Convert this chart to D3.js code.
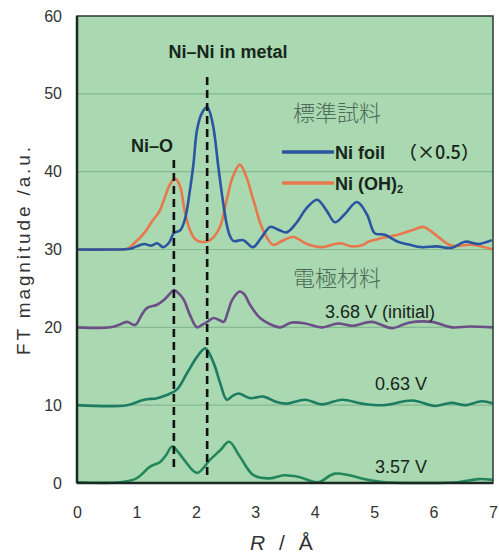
<!DOCTYPE html>
<html><head><meta charset="utf-8">
<script src="https://cdn.jsdelivr.net/npm/d3@7/dist/d3.min.js"></script>
<style>body{margin:0;background:#fff}svg{display:block}</style>
</head><body>
<svg id="c" width="499" height="560"></svg>
<script>
// ---- data (displayed values, offsets included) ----
const xTicks = [0,1,2,3,4,5,6,7];
const yTicks = [0,10,20,30,40,50,60];
const niFoilR = [0,0.5,0.9,1.0,1.13,1.25,1.35,1.45,1.55,1.63,1.74,1.82,1.9,1.96,2.02,2.1,2.19,2.28,2.38,2.45,2.52,2.57,2.63,2.8,2.96,3.1,3.25,3.4,3.53,3.7,3.85,4.04,4.2,4.34,4.5,4.71,4.88,5.01,5.18,5.4,5.6,5.8,6.05,6.3,6.53,6.75,6.98];
const niFoilV = [30,30,30.1,30.4,30.7,30.5,30.8,30.3,30.9,32.1,32.5,34,37.6,41,45.4,47.5,48.3,46.3,40.5,36.5,33.2,31.8,31.1,31.2,30.3,31.5,32.9,32.5,32.2,33.5,35.2,36.4,35,33.5,34.5,36.1,34.5,32.1,31.9,31,30.6,30.3,30.4,30.2,31,30.7,31.2];
const niOHR = [0,0.5,0.85,0.95,1.13,1.28,1.38,1.46,1.56,1.65,1.73,1.82,1.9,1.98,2.07,2.24,2.4,2.52,2.62,2.74,2.85,2.97,3.13,3.3,3.45,3.64,3.87,4.1,4.43,4.62,4.82,4.9,5.15,5.4,5.65,5.83,6.08,6.3,6.64,7.0];
const niOHV = [30,30,30.1,30.7,32.1,33.8,34.8,36.3,38.3,39.1,38.2,34.7,32.5,31.4,31.0,31.2,32.8,36.4,39.3,40.9,39.3,36.3,32.5,30.6,31.1,31.6,30.7,30.3,30.8,30.4,30.6,31,31.5,31.9,32.5,32.9,31.6,30.5,30.6,30];
const v368R = [0,0.56,0.7,0.84,0.98,1.08,1.18,1.35,1.46,1.55,1.63,1.72,1.8,1.9,2.02,2.1,2.19,2.3,2.4,2.47,2.54,2.61,2.74,2.82,2.91,3.08,3.25,3.42,3.6,3.84,4.12,4.39,4.63,4.96,5.3,5.58,5.97,6.31,6.6,7.0];
const v368V = [20,20,20.3,20.7,20.3,21.5,22.5,22.9,23.5,24.2,24.8,24.3,23.5,21.6,20.0,20.3,20.7,21.2,20.9,20.7,22,23.5,24.6,24.2,22.9,21.2,20.4,20.0,20.6,20.5,20.0,20.5,20.2,20.7,19.9,20.6,20.7,20.0,20.1,20.0];
const v063R = [0,0.84,1.13,1.35,1.51,1.68,1.85,2.02,2.16,2.3,2.41,2.52,2.62,2.72,2.91,3.14,3.36,3.53,3.84,4.12,4.46,4.8,5.18,5.64,6.02,6.3,6.53,6.81,7.0];
const v063V = [10,10,10.7,10.9,11.3,12,14.1,16.2,17.3,15.4,12.8,10.7,11.2,11.5,10.9,11.1,10.4,10.2,10.7,10.1,10.7,10.2,10.0,10.6,9.9,10.3,10,10.5,10.2];
const v357R = [0,0.73,1.0,1.23,1.4,1.5,1.6,1.7,1.8,2.02,2.24,2.41,2.56,2.74,2.97,3.25,3.48,3.72,4.06,4.34,4.9,5.18,5.86,6.41,6.75,7.0];
const v357V = [0.1,0.1,0.6,2.1,2.7,3.6,4.7,4.0,3.0,1.3,3.0,4.2,5.3,3.4,1.0,0.6,1.0,0.8,0.1,1.2,0.4,0.1,0,0.1,0.5,0.4];
const refLines = [1.63, 2.19];

const svg = d3.select('#c');
const x = d3.scaleLinear().domain([0,7]).range([77,493]);
const y = d3.scaleLinear().domain([0,60]).range([483,16]);
const SANS = '"Liberation Sans", Arial, sans-serif';
const CJK = '"Noto Sans CJK JP", sans-serif';

// plot background
svg.append('rect').attr('x',x(0)).attr('y',y(60)).attr('width',x(7)-x(0)).attr('height',y(0)-y(60))
  .attr('fill','#a9d8b1');
// grid
svg.append('g').selectAll('line').data(yTicks.filter(d=>d>0&&d<60)).join('line')
  .attr('x1',x(0)).attr('x2',x(7)).attr('y1',d=>y(d)).attr('y2',d=>y(d))
  .attr('stroke','#86b891').attr('stroke-width',1.2);

// axes
const gx = svg.append('g').attr('transform',`translate(0,${y(0)})`)
  .call(d3.axisBottom(x).tickValues(xTicks).tickSize(0).tickPadding(24).tickFormat(d3.format('d')));
const gy = svg.append('g').attr('transform',`translate(${x(0)},0)`)
  .call(d3.axisLeft(y).tickValues(yTicks).tickSize(0).tickPadding(15).tickFormat(d3.format('d')));
[gx,gy].forEach(g=>{
  g.select('.domain').remove();
  g.selectAll('text').attr('font-family',SANS).attr('font-size',16).attr('fill','#333');
});

// series
const line = d3.line().x(d=>x(d[0])).y(d=>y(d[1])).curve(d3.curveCatmullRom.alpha(0.5));
const series = [
  {r:v357R, v:v357V, c:'#24875c'},
  {r:v063R, v:v063V, c:'#1d7d62'},
  {r:v368R, v:v368V, c:'#6b4f86'},
  {r:niOHR, v:niOHV, c:'#e8784c'},
  {r:niFoilR, v:niFoilV, c:'#2a55a0'}
];
svg.append('g').selectAll('path').data(series).join('path')
  .attr('d',s=>line(s.r.map((r,i)=>[r,s.v[i]])))
  .attr('fill','none').attr('stroke',s=>s.c).attr('stroke-width',2.6).attr('stroke-linejoin','round');

// frame
svg.append('rect').attr('x',x(0)).attr('y',y(60)).attr('width',x(7)-x(0)).attr('height',y(0)-y(60))
  .attr('fill','none').attr('stroke','#2a3a30').attr('stroke-width',1.5);
svg.append('line').attr('x1',x(0)).attr('x2',x(0)).attr('y1',y(60)).attr('y2',y(0)).attr('stroke','#1a2a20').attr('stroke-width',2.5);
svg.append('line').attr('x1',x(0)).attr('x2',x(7)).attr('y1',y(0)).attr('y2',y(0)).attr('stroke','#1a2a20').attr('stroke-width',2.5);

// dashed reference lines
svg.append('line').attr('x1',x(refLines[0])).attr('x2',x(refLines[0])).attr('y1',160).attr('y2',468)
  .attr('stroke','#111').attr('stroke-width',2.6).attr('stroke-dasharray','8,5');
svg.append('line').attr('x1',x(refLines[1])).attr('x2',x(refLines[1])).attr('y1',77).attr('y2',476)
  .attr('stroke','#111').attr('stroke-width',2.6).attr('stroke-dasharray','8,5');

// labels
function txt(t,xx,yy,opt={}){
  return svg.append('text').attr('x',xx).attr('y',yy).text(t)
    .attr('font-family',opt.ff||SANS).attr('font-size',opt.fs||18)
    .attr('font-weight',opt.fw||'normal').attr('fill',opt.fill||'#17261b')
    .attr('text-anchor',opt.anchor||'start');
}
txt('Ni–Ni in metal',228,58,{fw:'bold',anchor:'middle',fs:18});
txt('Ni–O',152,152,{fw:'bold',anchor:'middle',fs:18});
txt('標準試料',293,121,{ff:CJK,fs:22,fill:'#4d6b58',fw:300});
txt('電極材料',293,286,{ff:CJK,fs:22,fill:'#4d6b58',fw:300});
// legend
svg.append('line').attr('x1',282).attr('x2',334).attr('y1',152).attr('y2',152).attr('stroke','#2a55a0').attr('stroke-width',3.5);
svg.append('line').attr('x1',282).attr('x2',334).attr('y1',183).attr('y2',183).attr('stroke','#e8784c').attr('stroke-width',3.5);
txt('Ni foil',335,159,{fw:'bold',fs:18});
txt('（×0.5）',399,159,{ff:CJK,fs:18,fw:500});
const t2 = txt('Ni (OH)',335,190,{fw:'bold',fs:18});
t2.append('tspan').text('2').attr('font-size',11).attr('dy',3);
txt('3.68 V (initial)',325,318,{fs:18});
txt('0.63 V',375,390,{fs:18});
txt('3.57 V',375,473,{fs:18});

// axis titles
svg.append('text').attr('transform','translate(30,251) rotate(-90)').attr('text-anchor','middle')
  .attr('font-family',SANS).attr('font-size',19).attr('fill','#333')
  .attr('textLength',208).attr('lengthAdjust','spacing').text('FT magnitude  /a.u.');
const xt = svg.append('text').attr('x',250).attr('y',550).attr('font-family',SANS).attr('font-size',21).attr('fill','#333');
xt.append('tspan').text('R').attr('font-style','italic');
xt.append('tspan').text(' / Å').attr('dx',4).attr('letter-spacing',4);
</script>
</body></html>
